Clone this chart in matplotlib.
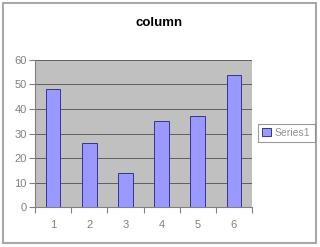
import matplotlib
matplotlib.use("Agg")
import matplotlib.pyplot as plt
from matplotlib.patches import Rectangle

# data
categories = ["1", "2", "3", "4", "5", "6"]
values = [48, 26, 14, 35, 37, 54]
series_name = "Series1"
y_ticks = [0, 10, 20, 30, 40, 50, 60]

plt.rcParams['font.family'] = ['Liberation Sans', 'DejaVu Sans']

fig = plt.figure(figsize=(3.2, 2.47), dpi=100)
fig.patch.set_facecolor("white")

# outer chart border
fig.patches.append(Rectangle((3 / 320, 4 / 247), 313 / 320, 240 / 247,
                             transform=fig.transFigure, fill=False,
                             edgecolor="#a8a8a8", linewidth=1.5))

ax = fig.add_axes([35 / 320, 40 / 247, 217 / 320, 147 / 247])
ax.set_facecolor("#c0c0c0")

x = list(range(1, len(categories) + 1))
ax.bar(x, values, width=0.41, color="#9999ff", edgecolor="#333399",
       linewidth=0.7, label=series_name, zorder=3)

ax.set_xlim(0.5, len(categories) + 0.5)
ax.set_ylim(0, 60)
ax.set_yticks(y_ticks)
ax.yaxis.grid(True, color="#505050", linewidth=0.6, zorder=1)
ax.set_axisbelow(True)

# category boundaries as major ticks, labels on minor ticks
ax.set_xticks([i + 0.5 for i in range(len(categories) + 1)])
ax.set_xticklabels([])
ax.set_xticks(x, minor=True)
ax.set_xticklabels(categories, minor=True)
ax.tick_params(axis="x", which="major", length=4, color="#808080", width=0.8)
ax.tick_params(axis="x", which="minor", length=0, pad=9, labelsize=8,
               labelcolor="#808080")
ax.tick_params(axis="y", length=4, color="#808080", width=0.8, pad=2,
               labelsize=8, labelcolor="#808080")

for side in ["top", "right"]:
    ax.spines[side].set_visible(False)
ax.spines["left"].set_color("#808080")
ax.spines["bottom"].set_color("#808080")

fig.text(159 / 320, 1 - 23 / 247, "column", ha="center", va="center",
         fontsize=9.5, fontweight="bold")

leg = fig.legend(loc="center", bbox_to_anchor=(286.5 / 320, 1 - 133 / 247),
                 fontsize=7.5, frameon=True, fancybox=False,
                 handlelength=0.8, handleheight=0.8, handletextpad=0.4,
                 borderpad=0.4, labelcolor="#909090")
leg.get_frame().set_edgecolor("#808080")
leg.get_frame().set_linewidth(0.8)

fig.savefig("out.png", dpi=100)
